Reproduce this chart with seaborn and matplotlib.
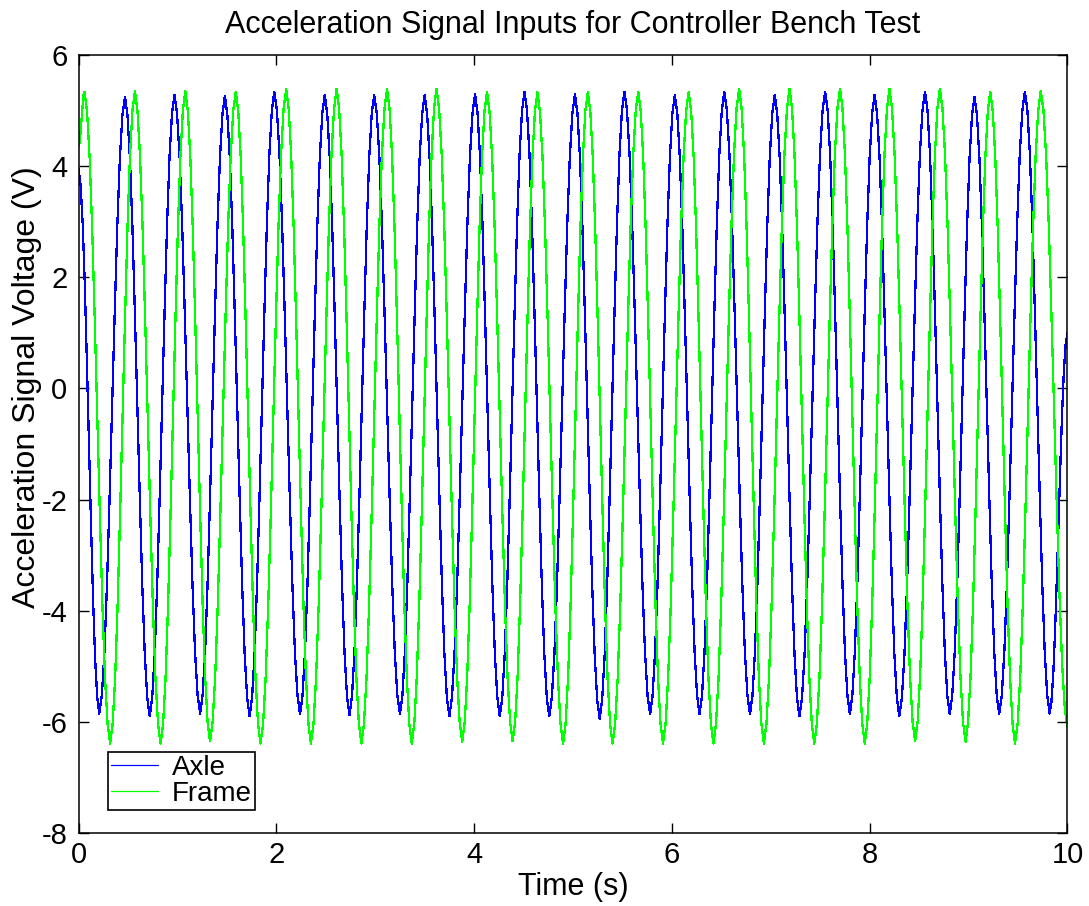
import numpy as np
import pandas as pd
import matplotlib
matplotlib.use("Agg")
import matplotlib.pyplot as plt
import seaborn as sns

# ---------------- data ----------------
# Axle signal (blue): extrema times (s) and values (V)
axle_peak_t = [0.47, 0.97, 1.48, 1.98, 2.49, 2.99, 3.50, 4.01, 4.51, 5.02,
               5.52, 6.03, 6.53, 7.04, 7.55, 8.05, 8.56, 9.06, 9.57]
axle_peak_v = [5.25, 5.28, 5.26, 5.34, 5.28, 5.28, 5.28, 5.29, 5.34, 5.29,
               5.34, 5.28, 5.34, 5.28, 5.34, 5.28, 5.34, 5.25, 5.34]
axle_trough_t = [0.21, 0.72, 1.23, 1.73, 2.24, 2.74, 3.25, 3.75, 4.26, 4.76,
                 5.27, 5.78, 6.28, 6.79, 7.29, 7.80, 8.30, 8.81, 9.31, 9.82]
axle_trough_v = [-5.85, -5.90, -5.85, -5.90, -5.86, -5.88, -5.86, -5.90, -5.90, -5.90,
                 -5.94, -5.86, -5.86, -5.86, -5.90, -5.86, -5.90, -5.86, -5.86, -5.85]
axle_start = (0.0, 3.95)
axle_end = (10.0, 1.0)

# Frame signal (green)
frame_peak_t = [0.06, 0.57, 1.08, 1.59, 2.10, 2.61, 3.12, 3.62, 4.13, 4.64,
                5.15, 5.66, 6.17, 6.68, 7.19, 7.70, 8.20, 8.71, 9.22, 9.73]
frame_peak_v = [5.34, 5.35, 5.35, 5.34, 5.39, 5.39, 5.39, 5.39, 5.34, 5.33,
                5.34, 5.34, 5.34, 5.39, 5.39, 5.39, 5.39, 5.39, 5.34, 5.35]
frame_trough_t = [0.32, 0.83, 1.33, 1.84, 2.35, 2.86, 3.37, 3.88, 4.39, 4.90,
                  5.40, 5.91, 6.42, 6.93, 7.44, 7.95, 8.46, 8.97, 9.47]
frame_trough_v = [-6.39, -6.39, -6.35, -6.39, -6.39, -6.39, -6.39, -6.36, -6.35, -6.39,
                  -6.39, -6.39, -6.39, -6.39, -6.39, -6.39, -6.35, -6.36, -6.39]
frame_start = (0.0, 4.35)
frame_end = (10.0, -6.1)

# half-cycle waveform profile
# (fraction of the swing reached at each fraction of the half-cycle time)
profile_u = [0.0, 0.1, 0.2, 0.3, 0.4, 0.5, 0.6, 0.7, 0.8, 0.9, 1.0]
profile_f = [0.0, 0.03, 0.10, 0.21, 0.35, 0.50, 0.65, 0.79, 0.90, 0.97, 1.0]

series_names = ["Axle", "Frame"]
series_colors = ["#0000ff", "#00ff00"]
x_ticks = [0, 2, 4, 6, 8, 10]
y_ticks = [-8, -6, -4, -2, 0, 2, 4, 6]


def build_series(start, peaks_t, peaks_v, troughs_t, troughs_v, end):
    ext = sorted(list(zip(peaks_t, peaks_v)) + list(zip(troughs_t, troughs_v)))
    pts = [start] + ext + [end]
    ts, vs = [], []
    for (ta, va), (tb, vb) in zip(pts[:-1], pts[1:]):
        for u, f in zip(profile_u[:-1], profile_f[:-1]):
            ts.append(ta + (tb - ta) * u)
            vs.append(va + (vb - va) * f)
    ts.append(pts[-1][0])
    vs.append(pts[-1][1])
    return ts, vs


axle_t, axle_v = build_series(axle_start, axle_peak_t, axle_peak_v,
                              axle_trough_t, axle_trough_v, axle_end)
frame_t, frame_v = build_series(frame_start, frame_peak_t, frame_peak_v,
                                frame_trough_t, frame_trough_v, frame_end)

df_axle = pd.DataFrame({"t": axle_t, "v": axle_v})
df_frame = pd.DataFrame({"t": frame_t, "v": frame_v})

# ---------------- drawing ----------------
sns.set_style("ticks")
plt.rcParams["font.family"] = ["Liberation Sans", "DejaVu Sans"]
plt.rcParams["axes.linewidth"] = 1.1
plt.rcParams["text.color"] = "black"
plt.rcParams["axes.labelcolor"] = "black"
plt.rcParams["xtick.color"] = "black"
plt.rcParams["ytick.color"] = "black"

fig = plt.figure(figsize=(10.89, 9.06), dpi=100)
ax = fig.add_axes([0.0721, 0.0806, 0.9081, 0.8587])

sns.lineplot(data=df_axle, x="t", y="v", ax=ax, color=series_colors[0],
             label=series_names[0], sort=False, estimator=None,
             linewidth=0.9, antialiased=False)
sns.lineplot(data=df_frame, x="t", y="v", ax=ax, color=series_colors[1],
             label=series_names[1], sort=False, estimator=None,
             linewidth=0.9, antialiased=False)

ax.set_xlim(0, 10)
ax.set_ylim(-8, 6)
ax.set_xticks(x_ticks)
ax.set_yticks(y_ticks)
ax.set_xticklabels([str(v) for v in x_ticks])
ax.set_yticklabels([str(v) for v in y_ticks])
ax.tick_params(direction="in", length=7, width=1.0, top=True, right=True,
               labelsize=21, colors="black", labelcolor="black")
ax.tick_params(axis="x", pad=6)
ax.tick_params(axis="y", pad=8)
for s in ax.spines.values():
    s.set_visible(True)
    s.set_color("black")
    s.set_linewidth(1.1)

ax.set_title("Acceleration Signal Inputs for Controller Bench Test",
             fontsize=22, pad=16, color="black")
ax.set_xlabel("Time (s)", fontsize=22, labelpad=2, color="black")
ax.set_ylabel("Acceleration Signal Voltage (V)", fontsize=23, color="black")
ax.yaxis.set_label_coords(-0.037, 0.573)

leg = ax.legend(loc="lower left", bbox_to_anchor=(0.0298, 0.0296),
                fontsize=20, frameon=True, fancybox=False, framealpha=1,
                edgecolor="black", handlelength=1.7, handletextpad=0.5,
                labelspacing=0.0, borderpad=0.1, borderaxespad=0)
leg.get_frame().set_linewidth(1.2)
for txt in leg.get_texts():
    txt.set_color("black")

fig.savefig("out.png", dpi=100, facecolor="white")
